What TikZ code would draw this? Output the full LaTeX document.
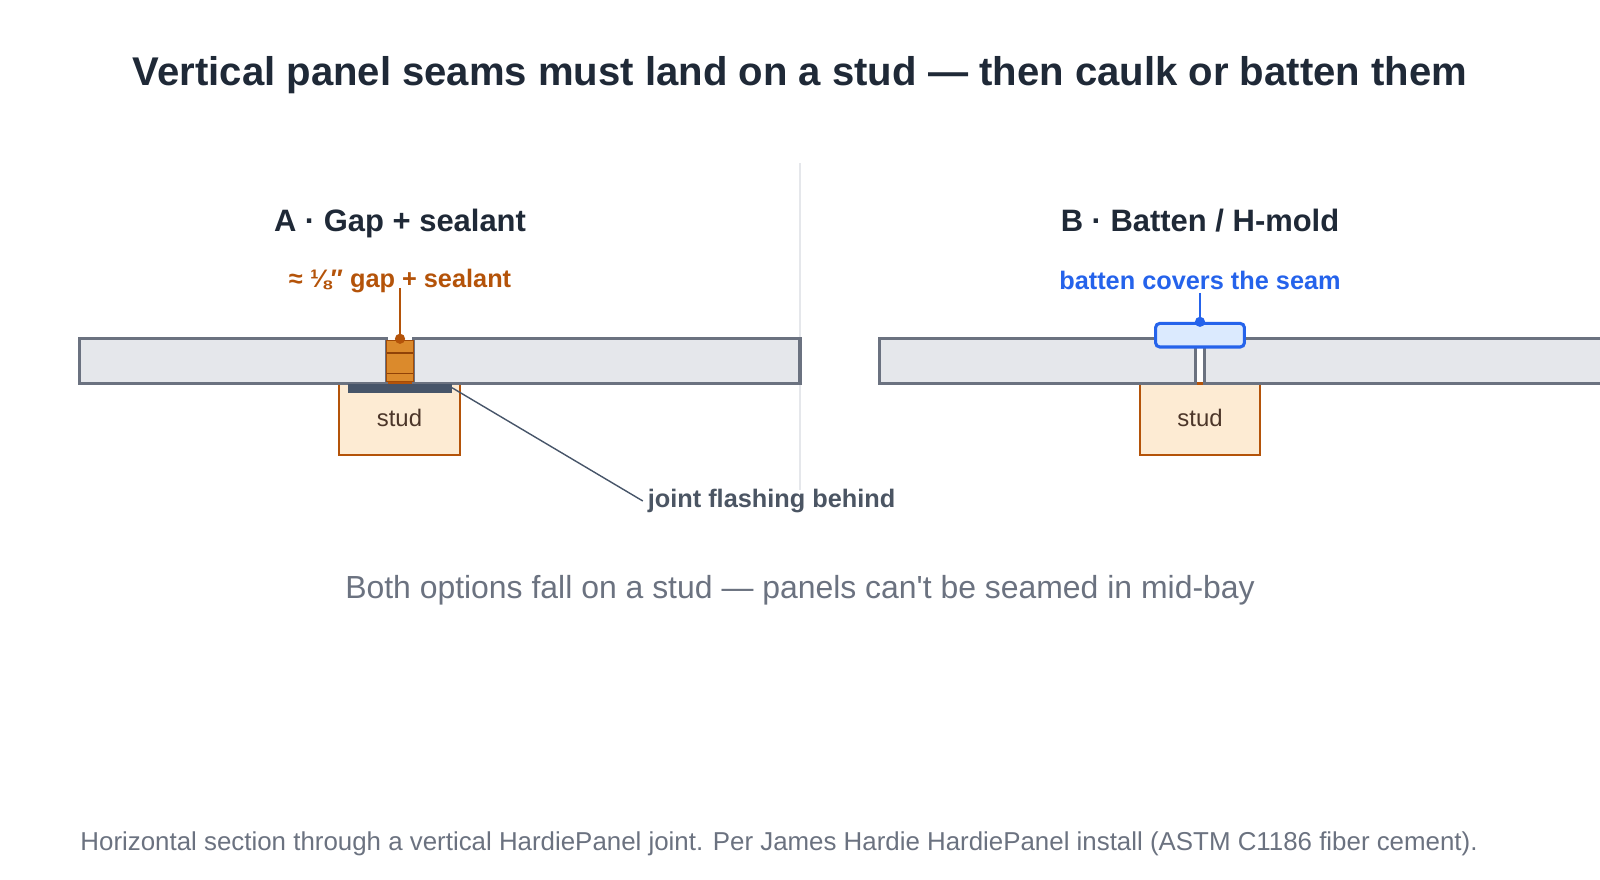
\documentclass[tikz,border=0pt]{standalone}
\usepackage{fontspec}
\setmainfont{Liberation Sans}[Ligatures=TeXOff]
\usetikzlibrary{positioning}
\definecolor{ink}{HTML}{1F2937}
\definecolor{slate}{HTML}{4B5563}
\definecolor{panelgray}{HTML}{E5E7EB}
\definecolor{paneledge}{HTML}{6B7280}
\definecolor{rust}{HTML}{B45309}
\definecolor{sealfill}{HTML}{DB8A2C}
\definecolor{studfill}{HTML}{FDEBD3}
\definecolor{flash}{HTML}{475569}
\definecolor{bluel}{HTML}{2563EB}
\definecolor{bluefill}{HTML}{DBEAFE}
\definecolor{muted}{HTML}{6B7280}
\begin{document}
\begin{tikzpicture}[
		x=0.0255cm, y=-0.0255cm,
		panel/.style={draw=paneledge, fill=panelgray, line width=2.2pt},
		stud/.style={draw=rust, fill=studfill, line width=1.6pt, minimum width=3.01cm, minimum height=1.79cm, inner sep=0pt, font=\fontsize{17}{20}\selectfont, text=ink!70!rust},
		heading/.style={font=\bfseries\fontsize{22}{26}\selectfont, text=ink, text height=16pt, text depth=4pt},
		note/.style={font=\bfseries\fontsize{18}{21}\selectfont},
		leader/.style={line width=1pt}
		]
		\useasboundingbox (0,0) rectangle (1568,862);
		\clip (0,0) rectangle (1568,862);
		
		% Title and divider
		\node[font=\bfseries\fontsize{28.5}{33}\selectfont, text=ink] (title) at (784,74) {Vertical panel seams must land on a stud — then caulk or batten them};
		\draw[panelgray, line width=2pt] (784,160) -- (784,480);
		
		% A: gap + sealant
		\node[heading] (headA) at (392,219) {A · Gap + sealant};
		\node[stud] (studA) at (391.5,411) {\raisebox{0.1cm}{stud}};
		\draw[panel] (78,332) rectangle (379,376);
		\draw[panel] (405,332) rectangle (784,376);
		\draw[fill=sealfill, draw=rust!90!black, line width=0.8pt] (379,334) rectangle (405,374);
		\draw[rust!80!black, line width=0.8pt] (379,346) -- (405,346) (379,366) -- (405,366);
		\fill[flash] (341,376) rectangle (443,385);
		\coordinate (flashend) at (443,380);
		\node[note, text=slate, anchor=west] (flashlabel) at (630,491) {joint flashing behind};
		\draw[leader, flash] (flashend) -- (flashlabel.west);
		\node[note, text=rust] (seallabel) at (392,275) {≈ ⅛″ gap + sealant};
		\coordinate (sealtop) at (392,332);
		\draw[leader, rust] (392,282) -- (sealtop);
		\fill[rust] (sealtop) circle (5);
		
		% B: batten / H-mold
		\node[heading] (headB) at (1176,219) {B · Batten / H-mold};
		\node[stud] (studB) at (1176,411) {\raisebox{0.1cm}{stud}};
		\draw[panel] (862,332) rectangle (1172,376);
		\draw[panel] (1180,332) rectangle (1640,376);
		\node[draw=bluel, fill=bluefill, line width=2.2pt, rounded corners=3pt, minimum width=2.22cm, minimum height=0.59cm, inner sep=0pt] (batten) at (1176,328.5) {};
		\node[note, text=bluel] (battenlabel) at (1176,275) {batten covers the seam};
		\draw[leader, bluel] (1176,287) -- (batten.north);
		\fill[bluel] (batten.north) circle (5);
		
		% Captions
		\node[font=\fontsize{22.7}{27}\selectfont, text=muted] (caption) at (784,578) {Both options fall on a stud — panels can't be seamed in mid-bay};
		\node[font=\fontsize{18.4}{22}\selectfont, text=muted, anchor=west] (footer) at (74,827) {Horizontal section through a vertical HardiePanel joint. Per James Hardie HardiePanel install (ASTM C1186 fiber cement).};
	\end{tikzpicture}
\end{document}
